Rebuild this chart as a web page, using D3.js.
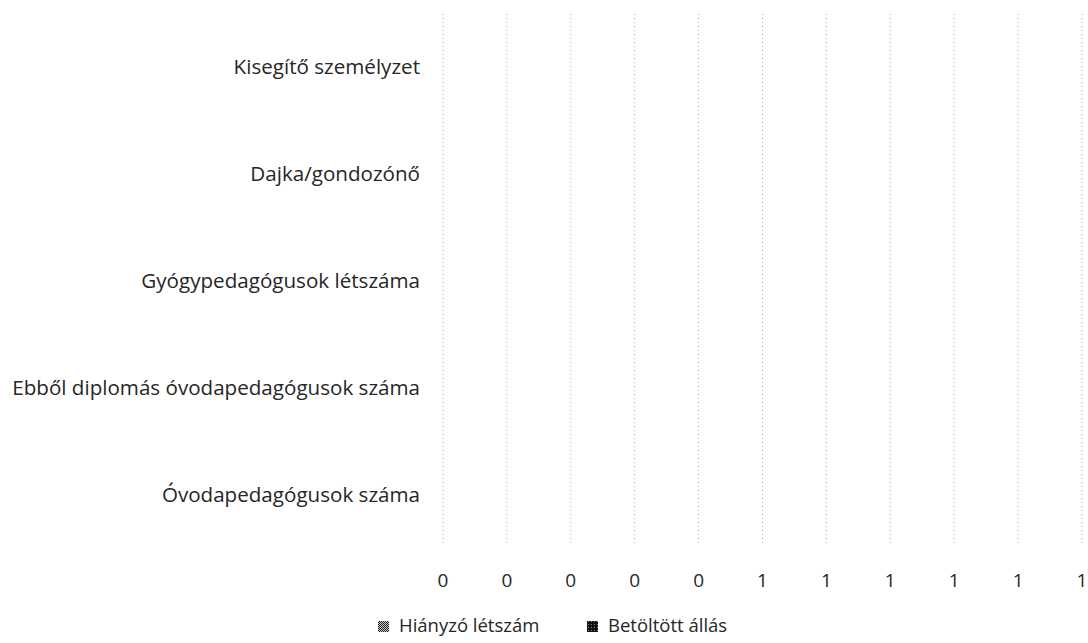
<!DOCTYPE html>
<html><head><meta charset="utf-8">
<script src="https://cdn.jsdelivr.net/npm/d3@7"></script>
<style>
html,body{margin:0;padding:0;background:#fff;}
svg{display:block;}
text{font-family:"Open Sans","Noto Sans",sans-serif;fill:#262626;}
</style></head><body>
<svg id="c" width="1088" height="643"></svg>
<script>
const categories = ["Kisegítő személyzet","Dajka/gondozónő","Gyógypedagógusok létszáma","Ebből diplomás óvodapedagógusok száma","Óvodapedagógusok száma"];
const seriesNames = ["Hiányzó létszám","Betöltött állás"];
const hianyzo = [0,0,0,0,0];
const betoltott = [0,0,0,0,0];
const tickValues = [0,0.1,0.2,0.3,0.4,0.5,0.6,0.7,0.8,0.9,1];

const svg = d3.select("#c");
const defs = svg.append("defs");
const p1 = defs.append("pattern").attr("id","pH").attr("width",2).attr("height",2).attr("patternUnits","userSpaceOnUse");
p1.append("rect").attr("width",2).attr("height",2).attr("fill","#c8c8c8");
p1.append("rect").attr("width",1).attr("height",1).attr("fill","#222");
p1.append("rect").attr("x",1).attr("y",1).attr("width",1).attr("height",1).attr("fill","#222");
const p2 = defs.append("pattern").attr("id","pB").attr("width",3).attr("height",3).attr("patternUnits","userSpaceOnUse");
p2.append("rect").attr("width",3).attr("height",3).attr("fill","#111");
p2.append("rect").attr("width",1).attr("height",1).attr("fill","#888");

const x = d3.scaleLinear().domain([0,1]).range([443,1082]);
const y = d3.scaleBand().domain(categories).range([13.5,548.5]);

// gridlines
svg.append("g").selectAll("line").data(tickValues).join("line")
  .attr("x1",d=>x(d)).attr("x2",d=>x(d)).attr("y1",14).attr("y2",545)
  .attr("stroke","#8a8a8a").attr("stroke-width",1).attr("stroke-dasharray","1,3")
  .attr("opacity",0.75);

// bars (stacked)
const stackData = categories.map((c,i)=>({cat:c, h:hianyzo[i], b:betoltott[i]}));
const stack = d3.stack().keys(["h","b"])(stackData);
const fills = ["url(#pH)","url(#pB)"];
svg.append("g").selectAll("g").data(stack).join("g").attr("fill",(d,i)=>fills[i])
  .selectAll("rect").data(d=>d).join("rect")
  .attr("x",d=>x(d[0])).attr("width",d=>x(d[1])-x(d[0]))
  .attr("y",d=>y(d.data.cat)+y.bandwidth()*0.25).attr("height",y.bandwidth()*0.5);

// y labels
svg.append("g").selectAll("text").data(categories).join("text")
  .attr("x",420).attr("y",d=>y(d)+y.bandwidth()/2).attr("dy","0.35em")
  .attr("text-anchor","end").attr("font-size",20.6).text(d=>d);

// x axis labels
const fmt = d3.format(".0f");
svg.append("g").selectAll("text").data(tickValues).join("text")
  .attr("x",d=>x(d)).attr("y",580).attr("dy","0.35em").attr("text-anchor","middle")
  .attr("font-size",19).text(d=>fmt(d));

// legend
const leg = svg.append("g");
const lx = [378,587];
seriesNames.forEach((n,i)=>{
  leg.append("rect").attr("x",lx[i]).attr("y",621).attr("width",11).attr("height",11).attr("fill",fills[i]);
  leg.append("text").attr("x",lx[i]+21).attr("y",626).attr("dy","0.35em").attr("font-size",18.5).text(n);
});
</script></body></html>
